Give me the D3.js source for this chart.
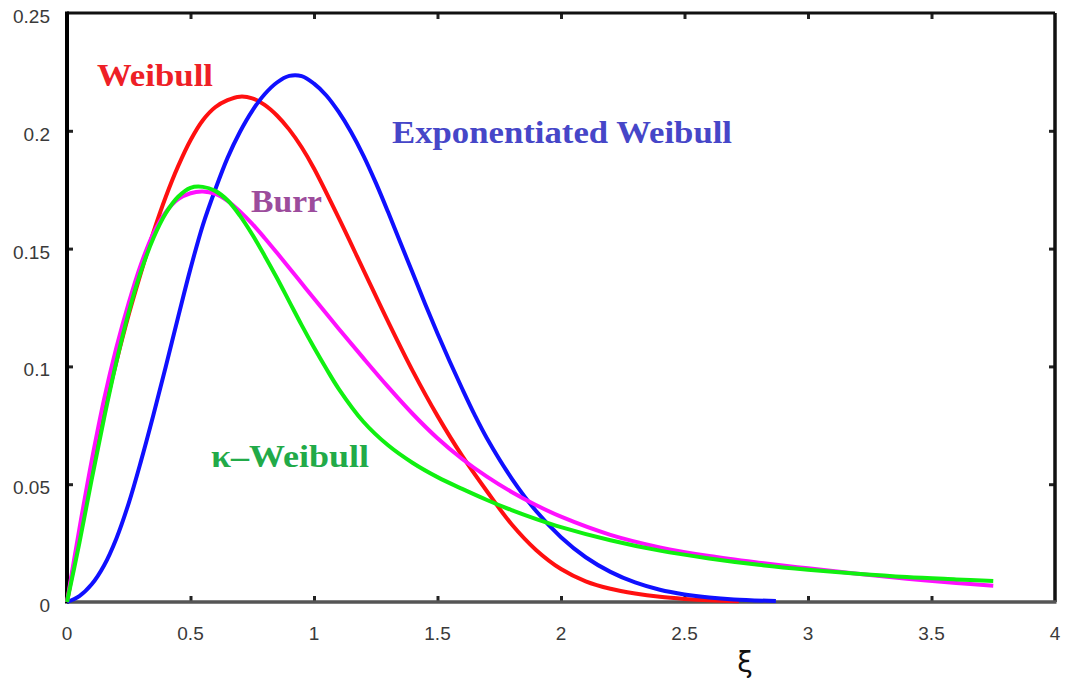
<!DOCTYPE html>
<html>
<head>
<meta charset="utf-8">
<script src="https://cdn.jsdelivr.net/npm/d3@7"></script>
<style>
  body { margin: 0; background: #fff; }
  .tickText { font-family: "Liberation Sans", Arial, sans-serif; font-size: 19px; fill: #3a3a3a; }
  .curveLabel { font-family: "Liberation Serif", "Times New Roman", serif; font-weight: bold; font-size: 31px; }
</style>
</head>
<body>
<div class="chart"></div>
<script>
// data
var weibullX = [0, 0.05, 0.1, 0.15, 0.2, 0.25, 0.3, 0.35, 0.4, 0.45, 0.5, 0.55, 0.6, 0.65, 0.7, 0.75, 0.8, 0.85, 0.9, 0.95, 1.0,
  1.1, 1.2, 1.3, 1.4, 1.5, 1.6, 1.7, 1.8, 1.9, 2.0, 2.1, 2.2, 2.3, 2.4, 2.5, 2.6, 2.72];
var weibullY = [0, 0.028, 0.055, 0.080, 0.102, 0.122, 0.140, 0.157, 0.172, 0.185, 0.196, 0.2045, 0.210, 0.213, 0.2145, 0.2138, 0.211, 0.2065, 0.2005, 0.193, 0.184,
  0.163, 0.141, 0.119, 0.098, 0.079, 0.062, 0.047, 0.033, 0.022, 0.014, 0.0088, 0.0056, 0.0036, 0.0022, 0.0013, 0.0007, 0.0003];

var expWeibullX = [0, 0.05, 0.1, 0.15, 0.2, 0.25, 0.3, 0.35, 0.4, 0.45, 0.5, 0.55, 0.6, 0.65, 0.7, 0.75, 0.8, 0.85, 0.9, 0.95, 1.0,
  1.05, 1.1, 1.15, 1.2, 1.25, 1.3, 1.35, 1.4, 1.45, 1.5, 1.55, 1.6, 1.65, 1.7, 1.8, 1.9, 2.0, 2.1, 2.2, 2.3, 2.4, 2.5, 2.6, 2.7, 2.87];
var expWeibullY = [0, 0.0025, 0.0075, 0.0155, 0.027, 0.042, 0.060, 0.0795, 0.100, 0.121, 0.1415, 0.160, 0.175, 0.1885, 0.1995, 0.2085, 0.2155, 0.2205, 0.2233, 0.2232, 0.2200,
  0.2150, 0.2080, 0.1995, 0.1895, 0.1780, 0.1655, 0.1525, 0.1395, 0.1265, 0.1140, 0.1020, 0.0905, 0.0795, 0.0695, 0.0525, 0.0385, 0.0275, 0.019, 0.0128, 0.0083, 0.0052, 0.0032, 0.0019, 0.0011, 0.0004];

var burrX = [0, 0.05, 0.1, 0.15, 0.2, 0.25, 0.3, 0.35, 0.4, 0.45, 0.5, 0.55, 0.6, 0.65, 0.7, 0.75, 0.8, 0.85, 0.9, 0.95, 1.0,
  1.1, 1.2, 1.3, 1.4, 1.5, 1.6, 1.7, 1.8, 1.9, 2.0, 2.2, 2.4, 2.6, 2.8, 3.0, 3.2, 3.4, 3.6, 3.75];
var burrY = [0, 0.031, 0.060, 0.086, 0.108, 0.127, 0.1435, 0.1565, 0.1655, 0.171, 0.1735, 0.1742, 0.1732, 0.1703, 0.1658, 0.1605, 0.1545, 0.1482, 0.1418, 0.1353, 0.1288,
  0.1160, 0.1035, 0.0913, 0.0798, 0.0695, 0.0607, 0.0532, 0.0467, 0.0411, 0.0362, 0.0285, 0.0232, 0.0195, 0.0167, 0.0143, 0.0120, 0.0099, 0.0081, 0.0069];

var kWeibullX = [0, 0.05, 0.1, 0.15, 0.2, 0.25, 0.3, 0.35, 0.4, 0.45, 0.5, 0.55, 0.6, 0.65, 0.7, 0.75, 0.8, 0.85, 0.9, 0.95, 1.0,
  1.05, 1.1, 1.2, 1.3, 1.4, 1.5, 1.6, 1.7, 1.8, 1.9, 2.0, 2.2, 2.4, 2.6, 2.8, 3.0, 3.2, 3.4, 3.6, 3.75];
var kWeibullY = [0, 0.025, 0.052, 0.078, 0.102, 0.123, 0.1405, 0.1545, 0.165, 0.172, 0.1758, 0.1762, 0.1745, 0.1705, 0.1640, 0.1560, 0.1470, 0.1375, 0.1275, 0.1175, 0.1080,
  0.0990, 0.0905, 0.0765, 0.0665, 0.0590, 0.0530, 0.0480, 0.0433, 0.0390, 0.0352, 0.0318, 0.0262, 0.0218, 0.0185, 0.0158, 0.0137, 0.0120, 0.0106, 0.0096, 0.0089];

var xTicks = [0, 0.5, 1, 1.5, 2, 2.5, 3, 3.5, 4];
var yTicks = [0, 0.05, 0.1, 0.15, 0.2, 0.25];

var svgWidth = 1065;
var svgHeight = 686;

var margin = { top: 13, right: 10, bottom: 84, left: 67 };
var width = svgWidth - margin.left - margin.right;
var height = svgHeight - margin.top - margin.bottom;

var svg = d3.select(".chart")
  .append("svg")
  .attr("width", svgWidth)
  .attr("height", svgHeight);

var chartGroup = svg.append("g")
  .attr("transform", `translate(${margin.left}, ${margin.top})`);

var xLinearScale = d3.scaleLinear().domain([0, 4]).range([0, width]);
var yLinearScale = d3.scaleLinear().domain([0, 0.25]).range([height, 0]);

// inward ticks on all four sides, labels drawn separately
var bottomAxis = d3.axisTop(xLinearScale).tickValues(xTicks.slice(1, -1)).tickSize(6).tickFormat("");
var topAxis = d3.axisBottom(xLinearScale).tickValues(xTicks.slice(1, -1)).tickSize(6).tickFormat("");
var leftAxis = d3.axisRight(yLinearScale).tickValues(yTicks.slice(1, -1)).tickSize(6).tickFormat("");
var rightAxis = d3.axisLeft(yLinearScale).tickValues(yTicks.slice(1, -1)).tickSize(6).tickFormat("");

function styleAxis(g) {
  g.select(".domain").remove();
  g.selectAll(".tick line").attr("stroke", "#222").attr("stroke-width", 3);
}

chartGroup.append("g").attr("transform", `translate(0, ${height})`).call(bottomAxis).call(styleAxis);
chartGroup.append("g").call(topAxis).call(styleAxis);
chartGroup.append("g").call(leftAxis).call(styleAxis);
chartGroup.append("g").attr("transform", `translate(${width}, 0)`).call(rightAxis).call(styleAxis);

// frame
chartGroup.append("line").attr("x1", 0).attr("x2", width).attr("y1", 0).attr("y2", 0)
  .attr("stroke", "#111").attr("stroke-width", 3);
chartGroup.append("line").attr("x1", width).attr("x2", width).attr("y1", 0).attr("y2", height)
  .attr("stroke", "#111").attr("stroke-width", 3.5);
chartGroup.append("line").attr("x1", 0).attr("x2", width + 1.5).attr("y1", height).attr("y2", height)
  .attr("stroke", "#555").attr("stroke-width", 3.5);
chartGroup.append("line").attr("x1", 0).attr("x2", 0).attr("y1", -1.5).attr("y2", height + 1.5)
  .attr("stroke", "#000").attr("stroke-width", 4);

// tick labels
chartGroup.selectAll(".xLabel")
  .data(xTicks)
  .enter()
  .append("text")
  .attr("class", "tickText")
  .attr("x", d => xLinearScale(d))
  .attr("y", height + 38)
  .attr("text-anchor", "middle")
  .text(d => d);

chartGroup.selectAll(".yLabel")
  .data(yTicks)
  .enter()
  .append("text")
  .attr("class", "tickText")
  .attr("x", -17)
  .attr("y", d => yLinearScale(d) + 10)
  .attr("text-anchor", "end")
  .text(d => d);

// curves
var series = [
  { xs: weibullX, ys: weibullY, color: "#ff1010" },
  { xs: expWeibullX, ys: expWeibullY, color: "#1010ff" },
  { xs: burrX, ys: burrY, color: "#ff10ff" },
  { xs: kWeibullX, ys: kWeibullY, color: "#10f010" }
];

var line = d3.line()
  .x(d => xLinearScale(d[0]))
  .y(d => yLinearScale(d[1]))
  .curve(d3.curveCatmullRom);

series.forEach(function(s) {
  chartGroup.append("path")
    .datum(d3.zip(s.xs, s.ys))
    .attr("d", line)
    .attr("fill", "none")
    .attr("stroke", s.color)
    .attr("stroke-width", 4)
    .attr("stroke-linejoin", "round");
});

// curve names
var labels = [
  { text: "Weibull", x: 97, y: 86, len: 116, color: "#ee2026" },
  { text: "Exponentiated Weibull", x: 392, y: 143, len: 340, color: "#4646c8" },
  { text: "Burr", x: 251, y: 212, len: 71, color: "#9c4c9c" },
  { text: "\u03ba\u2013Weibull", x: 211, y: 467, len: 158, color: "#22aa48" }
];

svg.selectAll(".curveLabel")
  .data(labels)
  .enter()
  .append("text")
  .attr("class", "curveLabel")
  .attr("x", d => d.x)
  .attr("y", d => d.y)
  .attr("textLength", d => d.len)
  .attr("lengthAdjust", "spacingAndGlyphs")
  .style("fill", d => d.color)
  .text(d => d.text);

// axis title
svg.append("text")
  .attr("x", 745)
  .attr("y", 672)
  .attr("text-anchor", "middle")
  .style("font-family", "\"DejaVu Sans\", sans-serif")
  .style("font-size", "28px")
  .style("fill", "#111")
  .text("\u03be");
</script>
</body>
</html>
